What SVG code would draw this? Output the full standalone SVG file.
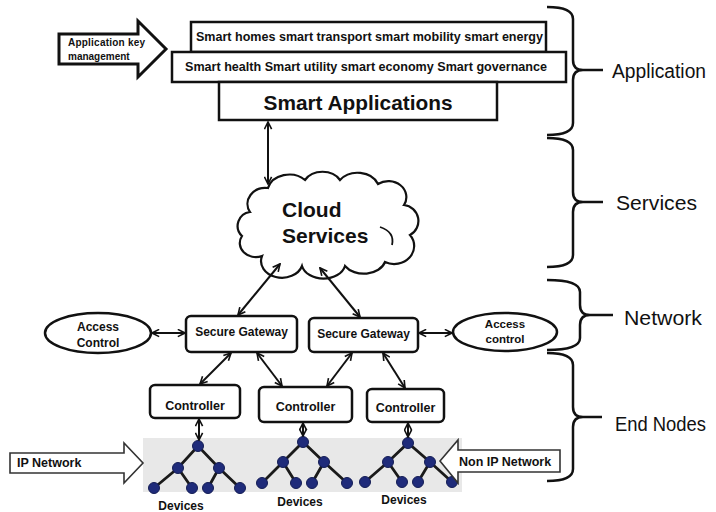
<svg xmlns="http://www.w3.org/2000/svg" width="716" height="512" viewBox="0 0 716 512">
<defs>
<marker id="ah" viewBox="0 0 10 10" refX="9" refY="5" markerWidth="9" markerHeight="9" markerUnits="userSpaceOnUse" orient="auto-start-reverse">
<path d="M1,1 L9,5 L1,9" fill="none" stroke="#111" stroke-width="1.8"/>
</marker>
<style>
.box{fill:#fff;stroke:#111;stroke-width:2.5}
.rbox{fill:#fff;stroke:#111;stroke-width:2.5}
.b{font-family:"Liberation Sans",Arial,sans-serif;font-weight:bold;fill:#111}
.r{font-family:"Liberation Sans",Arial,sans-serif;fill:#111}
.con{fill:none;stroke:#111;stroke-width:2;marker-start:url(#ah);marker-end:url(#ah)}
.brace{fill:none;stroke:#111;stroke-width:2.5}
.tree{fill:none;stroke:#1a1a1a;stroke-width:2.8}
.dev{fill:#1f2b7a;stroke:#141d55;stroke-width:1}
.blk{fill:#fff;stroke:#333;stroke-width:1.6}
</style>
</defs>
<rect width="716" height="512" fill="#fff"/>

<g id="app-key-arrow">
<polygon points="59,34 138,34 138,21 166,49 138,77 138,64 59,64" fill="#fff" stroke="#111" stroke-width="3" stroke-linejoin="miter"/>
<text class="b" x="68" y="46" font-size="10" textLength="77" lengthAdjust="spacing">Application key</text>
<text class="b" x="68" y="60" font-size="10">management</text>
</g>

<g id="smart-homes">
<rect class="box" x="191" y="22" width="355" height="30"/>
<text class="b" x="196" y="41" font-size="12" textLength="347" lengthAdjust="spacingAndGlyphs">Smart homes smart transport smart mobility  smart energy</text>
</g>
<g id="smart-health">
<rect class="box" x="172" y="52" width="394" height="30"/>
<text class="b" x="185" y="71" font-size="12" textLength="362" lengthAdjust="spacingAndGlyphs">Smart health Smart utility smart economy  Smart governance</text>
</g>
<g id="smart-applications">
<rect class="box" x="219" y="82" width="278" height="38"/>
<text class="b" x="358" y="110" font-size="20.5" text-anchor="middle" textLength="189" lengthAdjust="spacingAndGlyphs">Smart Applications</text>
</g>

<g id="cloud">
<path d="M250,212 A18,16 0 0 1 268,188 A22,18 0 0 1 305,180 A20,16 0 0 1 340,180 A22,18 0 0 1 378,184 A18,16 0 0 1 404,205 A16,16 0 0 1 410,235 A20,18 0 0 1 385,262 A22,16 0 0 1 345,266 A22,16 0 0 1 302,266 A20,16 0 0 1 262,256 A16,14 0 0 1 242,236 A14,14 0 0 1 250,212 Z" fill="#fff" stroke="#111" stroke-width="2.2"/>
<path d="M380,227 Q395,232 392,245" fill="none" stroke="#111" stroke-width="1.8"/>
<text class="b" x="282" y="217" font-size="21">Cloud</text>
<text class="b" x="282" y="243" font-size="21">Services</text>
</g>

<g id="access-control-left">
<ellipse cx="98" cy="333" rx="53" ry="20" fill="#fff" stroke="#111" stroke-width="2.5"/>
<text class="b" x="98" y="331" font-size="12" text-anchor="middle">Access</text>
<text class="b" x="98" y="347" font-size="12" text-anchor="middle">Control</text>
</g>
<g id="access-control-right">
<ellipse cx="505" cy="332" rx="52" ry="19" fill="#fff" stroke="#111" stroke-width="2.5"/>
<text class="b" x="505" y="328" font-size="11.5" text-anchor="middle">Access</text>
<text class="b" x="505" y="343" font-size="11.5" text-anchor="middle">control</text>
</g>

<g id="gateway-1">
<rect class="rbox" x="186" y="316" width="111" height="36" rx="5"/>
<text class="b" x="241.5" y="336" font-size="12" text-anchor="middle">Secure Gateway</text>
</g>
<g id="gateway-2">
<rect class="rbox" x="309" y="318" width="109" height="34" rx="5"/>
<text class="b" x="363.5" y="338" font-size="12" text-anchor="middle">Secure Gateway</text>
</g>

<g id="controller-1">
<rect class="rbox" x="150" y="385" width="90" height="33" rx="5"/>
<text class="b" x="195" y="410" font-size="12.5" text-anchor="middle">Controller</text>
</g>
<g id="controller-2">
<rect class="rbox" x="259" y="387" width="93" height="35" rx="5"/>
<text class="b" x="305.5" y="411" font-size="12.5" text-anchor="middle">Controller</text>
</g>
<g id="controller-3">
<rect class="rbox" x="367" y="389" width="77" height="33" rx="5"/>
<text class="b" x="405.5" y="412" font-size="12.5" text-anchor="middle">Controller</text>
</g>

<g id="devices-area">
<rect x="143" y="438" width="319" height="54" fill="#e8e8e8"/>
</g>

<g id="devices-1">
<path class="tree" d="M154,488 L178,468 L198,446 L219,468 L240,488 M178,468 L192,488 M219,468 L208,488"/>
<circle class="dev" cx="198" cy="446" r="5.5"/><circle class="dev" cx="178" cy="468" r="5.5"/><circle class="dev" cx="219" cy="468" r="5.5"/>
<circle class="dev" cx="154" cy="488" r="5.5"/><circle class="dev" cx="192" cy="488" r="5.5"/><circle class="dev" cx="208" cy="488" r="5.5"/><circle class="dev" cx="240" cy="488" r="5.5"/>
<text class="b" x="181" y="510" font-size="12" text-anchor="middle">Devices</text>
</g>
<g id="devices-2">
<path class="tree" d="M262,483 L283,462 L303,442 L324,462 L347,483 M283,462 L296,483 M324,462 L312,483"/>
<circle class="dev" cx="303" cy="442" r="5.5"/><circle class="dev" cx="283" cy="462" r="5.5"/><circle class="dev" cx="324" cy="462" r="5.5"/>
<circle class="dev" cx="262" cy="483" r="5.5"/><circle class="dev" cx="296" cy="483" r="5.5"/><circle class="dev" cx="312" cy="483" r="5.5"/><circle class="dev" cx="347" cy="483" r="5.5"/>
<text class="b" x="300" y="506" font-size="12" text-anchor="middle">Devices</text>
</g>
<g id="devices-3">
<path class="tree" d="M365,482 L388,462 L408,443 L430,462 L452,482 M388,462 L402,482 M430,462 L418,482"/>
<circle class="dev" cx="408" cy="443" r="5.5"/><circle class="dev" cx="388" cy="462" r="5.5"/><circle class="dev" cx="430" cy="462" r="5.5"/>
<circle class="dev" cx="365" cy="482" r="5.5"/><circle class="dev" cx="402" cy="482" r="5.5"/><circle class="dev" cx="418" cy="482" r="5.5"/><circle class="dev" cx="452" cy="482" r="5.5"/>
<text class="b" x="404" y="504" font-size="12" text-anchor="middle">Devices</text>
</g>

<g id="ip-network">
<polygon class="blk" points="10,453 124,453 124,443 143,463 124,483 124,473 10,473"/>
<text class="b" x="17" y="467" font-size="12.5">IP Network</text>
</g>
<g id="non-ip-network">
<polygon class="blk" points="440,461 458,440 458,450 560,450 560,472 458,472 458,483"/>
<text class="b" x="459" y="466" font-size="12.5">Non IP Network</text>
</g>

<g id="connectors">
<line class="con" x1="268" y1="122" x2="268" y2="184"/>
<line class="con" x1="280" y1="264" x2="238" y2="315"/>
<line class="con" x1="320" y1="268" x2="360" y2="317"/>
<line class="con" x1="152" y1="333" x2="185" y2="333"/>
<line class="con" x1="419" y1="333" x2="452" y2="333"/>
<line class="con" x1="231" y1="353" x2="200" y2="384"/>
<line class="con" x1="257" y1="353" x2="282" y2="386"/>
<line class="con" x1="352" y1="353" x2="327" y2="386"/>
<line class="con" x1="383" y1="353" x2="405" y2="388"/>
<line class="con" x1="199" y1="419" x2="199" y2="440"/>
<line class="con" x1="303" y1="423" x2="303" y2="436"/>
<line class="con" x1="408" y1="423" x2="408" y2="437"/>
</g>

<g id="layer-braces">
<path class="brace" d="M547,7 Q573,7 573,19 L573,60 Q573,70 583,70 L603,70 M583,70 Q573,70 573,80 L573,123 Q573,135 547,135"/>
<path class="brace" d="M547,138 Q573,138 573,150 L573,192 Q573,202 583,202 L603,202 M583,202 Q573,202 573,212 L573,255 Q573,267 547,267"/>
<path class="brace" d="M547,280 Q580,280 580,292 L580,305 Q580,315 590,315 L613,315 M590,315 Q580,315 580,325 L580,338 Q580,350 547,350"/>
<path class="brace" d="M547,353 Q573,353 573,365 L573,407 Q573,417 583,417 L602,417 M583,417 Q573,417 573,427 L573,469 Q573,481 547,481"/>
<text class="r" x="612" y="78" font-size="20" textLength="94" lengthAdjust="spacingAndGlyphs">Application</text>
<text class="r" x="616" y="210" font-size="20" textLength="81" lengthAdjust="spacingAndGlyphs">Services</text>
<text class="r" x="624" y="325" font-size="20" textLength="78" lengthAdjust="spacingAndGlyphs">Network</text>
<text class="r" x="615" y="431" font-size="20" textLength="91" lengthAdjust="spacingAndGlyphs">End Nodes</text>
</g>
</svg>
